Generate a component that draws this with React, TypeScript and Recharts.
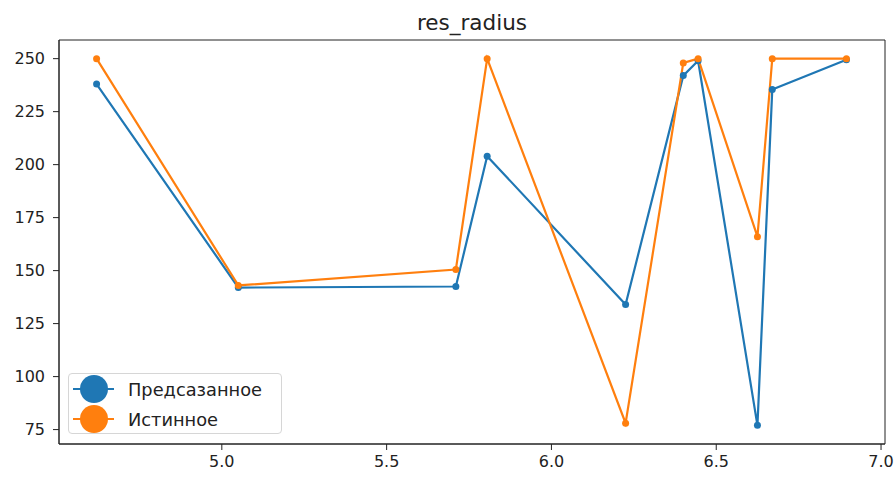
import { LineChart, Line, XAxis, YAxis, ReferenceArea } from "recharts";

const xValues = [4.62, 5.05, 5.71, 5.805, 6.225, 6.4, 6.445, 6.625, 6.67, 6.895];
const predicted = [238, 142, 142.5, 204, 134, 242, 249, 77, 235.5, 249.5];
const actual = [250, 143, 150.5, 250, 78, 248, 250, 166, 250, 250];
const xTicks = [5.0, 5.5, 6.0, 6.5, 7.0];
const yTicks = [75, 100, 125, 150, 175, 200, 225, 250];
const seriesNames = ["Предсазанное", "Истинное"];

const BLUE = "#1f77b4";
const ORANGE = "#ff7f0e";
const FONT = "'DejaVu Sans', sans-serif";
const TICK = { fontFamily: FONT, fontSize: 16, fill: "#222" };

const X_DOMAIN: [number, number] = [4.506, 7.012];
const Y_DOMAIN: [number, number] = [68.2, 258.8];

const rows = xValues.map((x, i) => ({ x, pred: predicted[i], real: actual[i] }));

// matplotlib-like legend box with oversized round markers
function LegendBox() {
  const items = [
    { label: seriesNames[0], color: BLUE },
    { label: seriesNames[1], color: ORANGE },
  ];
  return (
    <div
      style={{
        position: "absolute",
        left: 68,
        top: 373,
        width: 214,
        height: 61,
        border: "1px solid #d6d6d6",
        borderRadius: 4,
        background: "rgba(255,255,255,0.8)",
        boxSizing: "border-box",
      }}
    >
      {items.map((it) => (
        <div key={it.label} style={{ display: "flex", alignItems: "center", height: 30 }}>
          <svg width={56} height={30} style={{ display: "block", overflow: "visible" }}>
            <line x1={4} x2={45} y1={15} y2={15} stroke={it.color} strokeWidth={2.2} />
            <circle cx={25} cy={15} r={14} fill={it.color} />
          </svg>
          <span style={{ fontFamily: FONT, fontSize: 17.8, color: "#222", marginLeft: 3 }}>{it.label}</span>
        </div>
      ))}
    </div>
  );
}

export default function App() {
  return (
    <div style={{ position: "relative", width: 895, height: 477, background: "#fff" }}>
      <style>{`body{margin:0}`}</style>
      <div
        style={{
          position: "absolute",
          left: 59,
          width: 826,
          top: 10,
          textAlign: "center",
          fontFamily: FONT,
          fontSize: 21.5,
          color: "#222",
        }}
      >
        res_radius
      </div>
      <LineChart width={895} height={477} data={rows} margin={{ top: 40, right: 10, bottom: 0, left: 0 }}>
        <XAxis
          dataKey="x"
          type="number"
          domain={X_DOMAIN}
          ticks={xTicks}
          allowDataOverflow
          height={33}
          tickSize={6}
          tickMargin={6}
          tickFormatter={(v: number) => v.toFixed(1)}
          tick={TICK}
          stroke="#222"
        />
        <YAxis
          type="number"
          domain={Y_DOMAIN}
          ticks={yTicks}
          allowDataOverflow
          width={59}
          tickSize={6}
          tickMargin={8}
          tick={TICK}
          stroke="#222"
        />
        <ReferenceArea
          x1={X_DOMAIN[0]}
          x2={X_DOMAIN[1]}
          y1={Y_DOMAIN[0]}
          y2={Y_DOMAIN[1]}
          fill="none"
          stroke="#222"
          strokeWidth={1}
          ifOverflow="visible"
        />
        <Line
          dataKey="pred"
          name={seriesNames[0]}
          stroke={BLUE}
          strokeWidth={2.2}
          dot={{ r: 3.5, fill: BLUE, stroke: BLUE, strokeWidth: 0 }}
          activeDot={false}
          isAnimationActive={false}
        />
        <Line
          dataKey="real"
          name={seriesNames[1]}
          stroke={ORANGE}
          strokeWidth={2.2}
          dot={{ r: 3.5, fill: ORANGE, stroke: ORANGE, strokeWidth: 0 }}
          activeDot={false}
          isAnimationActive={false}
        />
      </LineChart>
      <LegendBox />
    </div>
  );
}
